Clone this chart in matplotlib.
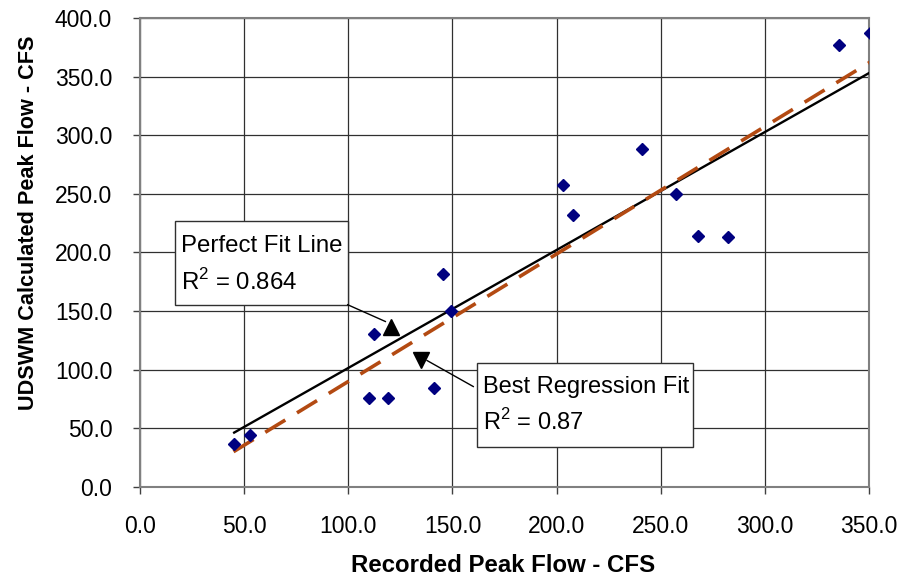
import matplotlib
matplotlib.use("Agg")
import matplotlib.pyplot as plt
from matplotlib.patches import Rectangle

plt.rcParams['font.family'] = ['Liberation Sans', 'DejaVu Sans']
plt.rcParams['mathtext.fontset'] = 'custom'
plt.rcParams['mathtext.rm'] = 'Liberation Sans'

# Data
recorded = [45.2, 52.9, 109.8, 119.1, 112.2, 141.3, 149.4, 145.5,
            203.2, 208.0, 241.0, 257.5, 268.1, 282.5, 335.6, 350.6]
calculated = [36.5, 43.8, 75.8, 75.8, 130.5, 84.1, 150.2, 181.8,
              257.7, 231.6, 288.6, 250.2, 214.3, 212.8, 376.7, 387.5]
perfect_x = [45.2, 351.0]
perfect_y = [46.2, 354.0]
regress_x = [44.9, 351.3]
regress_y = [29.9, 363.2]
x_ticks = [0, 50, 100, 150, 200, 250, 300, 350]
y_ticks = [0, 50, 100, 150, 200, 250, 300, 350, 400]

fig = plt.figure(figsize=(9.01, 5.82), dpi=100)
ax = fig.add_axes([0.1554, 0.1637, 0.8091, 0.8054])
ax.set_xlim(0, 350)
ax.set_ylim(0, 400)
ax.set_xticks(x_ticks)
ax.set_yticks(y_ticks)
ax.set_xticklabels([f"{v:.1f}" for v in x_ticks])
ax.set_yticklabels([f"{v:.1f}" for v in y_ticks])
ax.tick_params(direction='out', length=5, width=1, color='#404040',
               labelsize=16.5, pad=15)
ax.grid(True, color='#303030', linewidth=0.9)
ax.set_axisbelow(True)
for s in ax.spines.values():
    s.set_color('#808080')
    s.set_linewidth(1.5)

ax.plot(perfect_x, perfect_y, color='black', linewidth=1.7, zorder=3)
ax.plot(regress_x, regress_y, color='#B34A12', linewidth=2.6,
        dashes=(6.5, 3.8), zorder=3)
ax.plot(recorded, calculated, linestyle='none', marker='D', markersize=6.3,
        color='#000080', zorder=4)

# Annotation boxes
ax.add_patch(Rectangle((16.8, 155.3), 83.1, 71.7, facecolor='white',
                       edgecolor='#303030', linewidth=1, zorder=5))
ax.text(19.6, 205.7, "Perfect Fit Line", fontsize=17.3, va='center',
        ha='left', zorder=6)
ax.text(19.6, 174.5, "R$^2$ = 0.864", fontsize=17.3, va='center',
        ha='left', zorder=6)
ax.add_patch(Rectangle((161.9, 34.2), 103.6, 71.3, facecolor='white',
                       edgecolor='#303030', linewidth=1, zorder=5))
ax.text(164.6, 84.8, "Best Regression Fit", fontsize=17.0, va='center',
        ha='left', zorder=6)
ax.text(164.6, 54.9, "R$^2$ = 0.87", fontsize=17.0, va='center',
        ha='left', zorder=6)

# Arrows
ax.plot([99.7, 117.8], [155.3, 141.0], color='black', linewidth=1, zorder=5)
ax.plot([120.7], [136.1], marker='^', markersize=12, color='black',
        linestyle='none', zorder=5)
ax.plot([160.0, 137.8], [85.5, 107.7], color='black', linewidth=1, zorder=5)
ax.plot([134.9], [108.0], marker='v', markersize=12, color='black',
        linestyle='none', zorder=5)

ax.set_xlabel("Recorded Peak Flow - CFS", fontsize=17.3, fontweight='bold')
ax.set_ylabel("UDSWM Calculated Peak Flow - CFS", fontsize=15.6,
              fontweight='bold')
ax.xaxis.set_label_coords(0.4986, -0.1690)
ax.yaxis.set_label_coords(-0.1536, 0.5626)
ax.xaxis.label.set_va('center')
ax.yaxis.label.set_va('center')

fig.savefig("out.png", dpi=100)
